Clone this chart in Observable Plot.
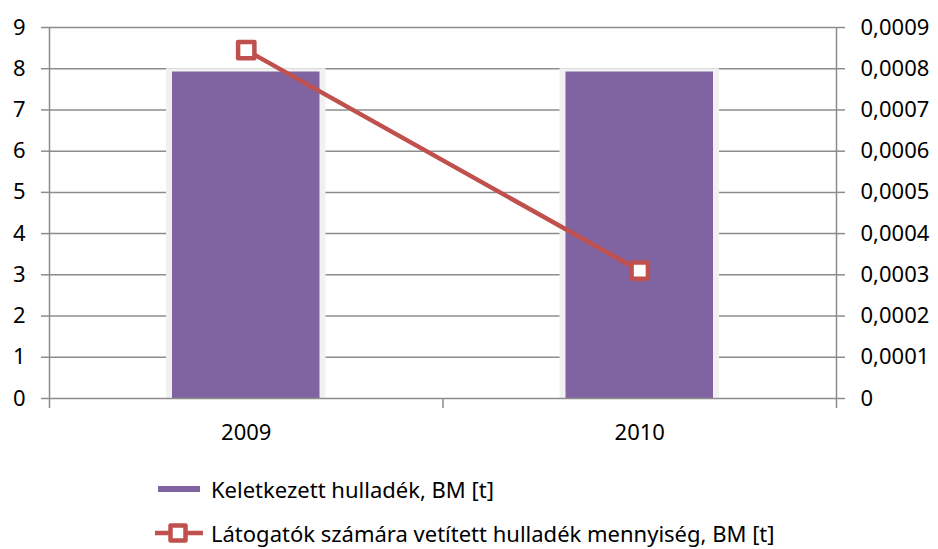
<!DOCTYPE html>
<html>
<head>
<meta charset="utf-8">
<script src="https://cdn.jsdelivr.net/npm/d3@7"></script>
<script src="https://cdn.jsdelivr.net/npm/@observablehq/plot@0.6"></script>
<style>
  html, body { margin: 0; padding: 0; background: #fff; }
  #wrap { position: relative; width: 938px; height: 549px; font-family: "Noto Sans", sans-serif; overflow: hidden; }
  .leg { position: absolute; left: 155px; height: 30px; display: flex; align-items: center; font-size: 22px; line-height: 30px; color: #000; white-space: nowrap; }
  .leg svg { margin-right: 8px; }
</style>
</head>
<body>
<div id="wrap"></div>
<script>
const years = ["2009", "2010"];
const waste = [7.92, 7.92];                  // Keletkezett hulladék, BM [t] (left axis)
const perVisitor = [0.000845, 0.00031];      // Látogatók számára vetített hulladék mennyiség, BM [t] (right axis)
const leftTicks = [0, 1, 2, 3, 4, 5, 6, 7, 8, 9];
const rightTicks = [0, 0.0001, 0.0002, 0.0003, 0.0004, 0.0005, 0.0006, 0.0007, 0.0008, 0.0009];
const seriesNames = ["Keletkezett hulladék, BM [t]", "Látogatók számára vetített hulladék mennyiség, BM [t]"];

const ratio = 9 / 0.0009;
const rows = years.map((y, i) => ({year: y, i, waste: waste[i], pv: perVisitor[i]}));
const gray = "#8c8c8c";
const purple = "#8064A2";
const red = "#C0504D";

const plot = Plot.plot({
  width: 938,
  height: 460,
  marginLeft: 49,
  marginRight: 102,
  marginTop: 27,
  marginBottom: 62,
  style: {fontFamily: "Noto Sans, sans-serif", fontSize: "22px", color: "#000", background: "#fff"},
  x: {domain: [0, years.length], axis: null, label: null},
  y: {domain: [0, 9], axis: null, label: null},
  marks: [
    Plot.ruleY(leftTicks.slice(1), {stroke: gray, strokeWidth: 1.5}),
    // bar glow
    Plot.rectY(rows, {x1: "i", x2: d => d.i + 1, y1: 0, y2: d => d.waste + 0.08, insetLeft: 117, insetRight: 117, fill: "#f1f1f1"}),
    Plot.rectY(rows, {x1: "i", x2: d => d.i + 1, y: "waste", insetLeft: 123, insetRight: 123, fill: purple}),
    Plot.ruleY([0], {stroke: gray, strokeWidth: 1.5}),
    Plot.axisY({anchor: "left", label: null, ticks: leftTicks, tickSize: 8, tickPadding: 16, tickFormat: d => String(d), stroke: gray, strokeWidth: 1.5, fontSize: 22}),
    Plot.ruleX([0], {stroke: gray, strokeWidth: 1.5}),
    Plot.axisY({anchor: "right", label: null, ticks: rightTicks.map(t => t * ratio), tickSize: 8, tickPadding: 16,
      tickFormat: (d, k) => String(rightTicks[k]).replace(".", ","), stroke: gray, strokeWidth: 1.5, fontSize: 22}),
    Plot.ruleX([years.length], {stroke: gray, strokeWidth: 1.5}),
    Plot.axisX({label: null, ticks: d3.range(years.length + 1), tickSize: 10, tickFormat: () => "", stroke: gray, strokeWidth: 1.5}),
    Plot.axisX({label: null, ticks: years.map((y, i) => i + 0.5), tickSize: 0, tickPadding: 26, tickFormat: (d, k) => years[k], fontSize: 22}),
    Plot.line(rows, {x: d => d.i + 0.5, y: d => d.pv * ratio, stroke: red, strokeWidth: 4.5}),
    Plot.dot(rows, {x: d => d.i + 0.5, y: d => d.pv * ratio, symbol: "square", r: 9.2, fill: "#fff", stroke: red, strokeWidth: 4.5, strokeLinejoin: "round"})
  ]
});

const wrap = document.getElementById("wrap");
wrap.appendChild(plot);

const l1 = document.createElement("div");
l1.className = "leg";
l1.style.top = "474px";
l1.innerHTML = `<svg width="48" height="30"><rect x="3" y="12" width="42" height="6" fill="${purple}"/></svg><span>${seriesNames[0]}</span>`;
wrap.appendChild(l1);

const l2 = document.createElement("div");
l2.className = "leg";
l2.style.top = "518px";
l2.innerHTML = `<svg width="48" height="30"><line x1="0" y1="15" x2="48" y2="15" stroke="${red}" stroke-width="4.5"/><rect x="15.5" y="7.5" width="15" height="15" fill="#fff" stroke="${red}" stroke-width="4.5" stroke-linejoin="round"/></svg><span>${seriesNames[1]}</span>`;
wrap.appendChild(l2);
</script>
</body>
</html>
